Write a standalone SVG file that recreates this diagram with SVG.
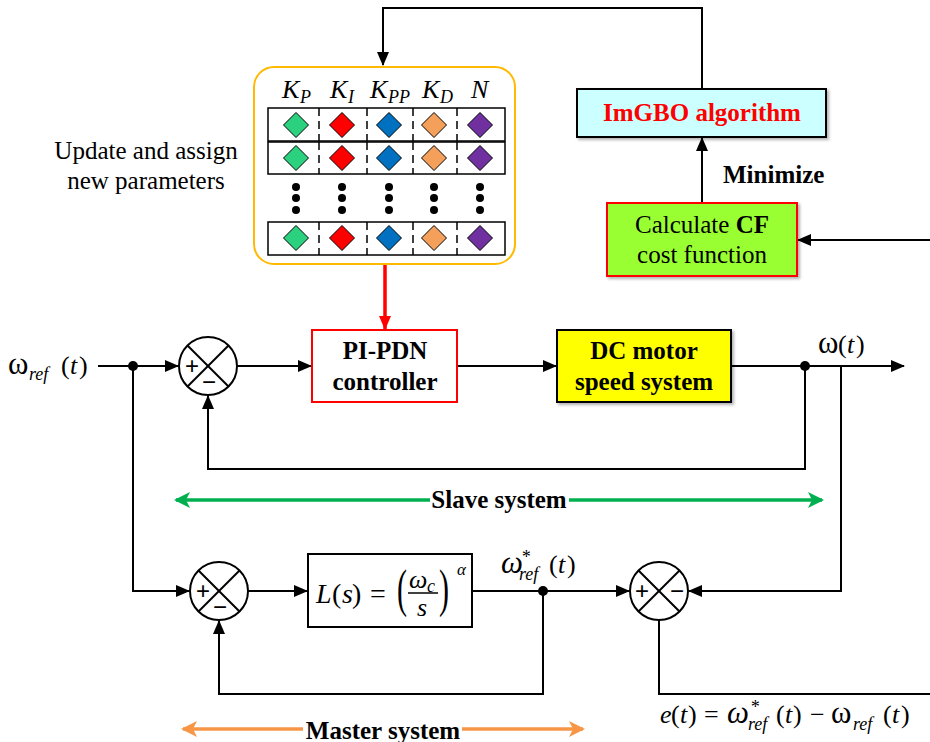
<svg xmlns="http://www.w3.org/2000/svg" width="930" height="742" viewBox="0 0 930 742">
<defs>
<marker id="ah" markerWidth="14" markerHeight="12" refX="13" refY="6" orient="auto" markerUnits="userSpaceOnUse"><path d="M0,0 L14,6 L0,12 Z" fill="#000"/></marker>
<marker id="ahr" markerWidth="14" markerHeight="12" refX="13" refY="6" orient="auto" markerUnits="userSpaceOnUse"><path d="M0,0 L14,6 L0,12 Z" fill="#FF0000"/></marker>
<marker id="ahg" markerWidth="16" markerHeight="16" refX="14" refY="8" orient="auto-start-reverse" markerUnits="userSpaceOnUse"><path d="M0,0 L16,8 L0,16 L4,8 Z" fill="#00B050"/></marker>
<marker id="aho" markerWidth="16" markerHeight="16" refX="14" refY="8" orient="auto-start-reverse" markerUnits="userSpaceOnUse"><path d="M0,0 L16,8 L0,16 L4,8 Z" fill="#F79646"/></marker>
<filter id="sh" x="-10%" y="-10%" width="130%" height="140%"><feDropShadow dx="2" dy="2" stdDeviation="1.5" flood-color="#000" flood-opacity="0.3"/></filter>
<g id="dm"><path d="M0,-12.5 L12.5,0 L0,12.5 L-12.5,0 Z" stroke="#000" stroke-width="1"/></g>
</defs>
<style>
.ln{fill:none;stroke:#000;stroke-width:2}
.box{stroke-width:2}
.t{font-family:"Liberation Serif",serif;font-size:25px;fill:#000}
.b{font-weight:bold}
.m{font-family:"Liberation Serif",serif;font-style:italic;font-size:26px;fill:#000}
.u{font-style:normal}
.w{font-size:31px}
.sub{font-size:18px}
.sj{fill:#fff;stroke:#000;stroke-width:2}
.pm{font-family:"Liberation Sans",sans-serif;font-size:24px;fill:#000;text-anchor:middle}
.row{fill:#fff;stroke:#000;stroke-width:1.5}
.dv{stroke:#000;stroke-width:1.5;stroke-dasharray:8,5}
.c1{fill:#2BD17E}.c2{fill:#FF0000}.c3{fill:#0070C0}.c4{fill:#F5A05A}.c5{fill:#7030A0}
</style>
<rect width="930" height="742" fill="#fff"/>

<!-- connectors -->
<g id="connectors">
<polyline class="ln" points="702,89 702,8 383,8 383,65" marker-end="url(#ah)"/>
<line class="ln" x1="702" y1="203" x2="702" y2="138" marker-end="url(#ah)"/>
<line class="ln" x1="930" y1="240" x2="798" y2="240" marker-end="url(#ah)"/>
<line x1="385" y1="265" x2="385" y2="329" stroke="#FF0000" stroke-width="3.5" marker-end="url(#ahr)"/>
<line class="ln" x1="98" y1="366" x2="178" y2="366" marker-end="url(#ah)"/>
<line class="ln" x1="237" y1="366" x2="311" y2="366" marker-end="url(#ah)"/>
<line class="ln" x1="457" y1="366" x2="556" y2="366" marker-end="url(#ah)"/>
<line class="ln" x1="731" y1="366" x2="904" y2="366" marker-end="url(#ah)"/>
<polyline class="ln" points="805,366 805,469 208,469 208,396" marker-end="url(#ah)"/>
<polyline class="ln" points="133,366 133,591 189,591" marker-end="url(#ah)"/>
<line class="ln" x1="248" y1="591" x2="307" y2="591" marker-end="url(#ah)"/>
<line class="ln" x1="472" y1="591" x2="629" y2="591" marker-end="url(#ah)"/>
<polyline class="ln" points="543,591 543,694 219,694 219,621" marker-end="url(#ah)"/>
<polyline class="ln" points="841,366 841,591 689,591" marker-end="url(#ah)"/>
<polyline class="ln" points="659,620 659,694 930,694"/>
<circle cx="133" cy="366" r="5" fill="#000"/>
<circle cx="805" cy="366" r="5" fill="#000"/>
<circle cx="543" cy="591" r="5" fill="#000"/>
<line x1="430" y1="500" x2="176" y2="500" stroke="#00B050" stroke-width="3.5" marker-end="url(#ahg)"/>
<line x1="569" y1="500" x2="822" y2="500" stroke="#00B050" stroke-width="3.5" marker-end="url(#ahg)"/>
<line x1="303" y1="729" x2="183" y2="729" stroke="#F79646" stroke-width="3.5" marker-end="url(#aho)"/>
<line x1="462" y1="729" x2="583" y2="729" stroke="#F79646" stroke-width="3.5" marker-end="url(#aho)"/>
</g>

<!-- parameter panel -->
<g id="params">
<rect x="254" y="67" width="261" height="197" rx="20" fill="#fff" stroke="#FFB900" stroke-width="2"/>
<text class="m" y="98"><tspan x="282">K</tspan><tspan class="sub" x="300" y="103">P</tspan></text>
<text class="m" y="98"><tspan x="330">K</tspan><tspan class="sub" x="348" y="103">I</tspan></text>
<text class="m" y="98"><tspan x="370">K</tspan><tspan class="sub" x="388" y="103">PP</tspan></text>
<text class="m" y="98"><tspan x="422">K</tspan><tspan class="sub" x="440" y="103">D</tspan></text>
<text class="m" x="471" y="98">N</text>
<rect class="row" x="268" y="108" width="237" height="33"/>
<rect class="row" x="268" y="142" width="237" height="32"/>
<rect class="row" x="268" y="222" width="237" height="33"/>
<g>
<line class="dv" x1="319" y1="108" x2="319" y2="141"/><line class="dv" x1="367" y1="108" x2="367" y2="141"/><line class="dv" x1="413" y1="108" x2="413" y2="141"/><line class="dv" x1="457" y1="108" x2="457" y2="141"/>
<line class="dv" x1="319" y1="142" x2="319" y2="174"/><line class="dv" x1="367" y1="142" x2="367" y2="174"/><line class="dv" x1="413" y1="142" x2="413" y2="174"/><line class="dv" x1="457" y1="142" x2="457" y2="174"/>
<line class="dv" x1="319" y1="222" x2="319" y2="255"/><line class="dv" x1="367" y1="222" x2="367" y2="255"/><line class="dv" x1="413" y1="222" x2="413" y2="255"/><line class="dv" x1="457" y1="222" x2="457" y2="255"/>
</g>
<use href="#dm" class="c1" x="296" y="125"/><use href="#dm" class="c2" x="342" y="125"/><use href="#dm" class="c3" x="389" y="125"/><use href="#dm" class="c4" x="434" y="125"/><use href="#dm" class="c5" x="480" y="125"/>
<use href="#dm" class="c1" x="296" y="158"/><use href="#dm" class="c2" x="342" y="158"/><use href="#dm" class="c3" x="389" y="158"/><use href="#dm" class="c4" x="434" y="158"/><use href="#dm" class="c5" x="480" y="158"/>
<use href="#dm" class="c1" x="296" y="238"/><use href="#dm" class="c2" x="342" y="238"/><use href="#dm" class="c3" x="389" y="238"/><use href="#dm" class="c4" x="434" y="238"/><use href="#dm" class="c5" x="480" y="238"/>
<g fill="#000">
<circle cx="296" cy="187" r="4"/><circle cx="296" cy="198" r="4"/><circle cx="296" cy="210" r="4"/>
<circle cx="342" cy="187" r="4"/><circle cx="342" cy="198" r="4"/><circle cx="342" cy="210" r="4"/>
<circle cx="389" cy="187" r="4"/><circle cx="389" cy="198" r="4"/><circle cx="389" cy="210" r="4"/>
<circle cx="434" cy="187" r="4"/><circle cx="434" cy="198" r="4"/><circle cx="434" cy="210" r="4"/>
<circle cx="480" cy="187" r="4"/><circle cx="480" cy="198" r="4"/><circle cx="480" cy="210" r="4"/>
</g>
</g>

<g id="update-label">
<text class="t" x="146" y="159" text-anchor="middle">Update and assign</text>
<text class="t" x="146" y="189" text-anchor="middle">new parameters</text>
</g>

<g id="imgbo">
<rect x="577" y="89" width="249" height="48" fill="#CCFFFF" stroke="#000" class="box" filter="url(#sh)"/>
<text class="t b" x="702" y="121" text-anchor="middle" style="fill:#FF0000">ImGBO algorithm</text>
</g>
<text class="t b" x="723" y="183">Minimize</text>

<g id="cf">
<rect x="607" y="203" width="190" height="73" fill="#99FF33" stroke="#FF0000" class="box" filter="url(#sh)"/>
<text class="t" x="702" y="233" text-anchor="middle">Calculate <tspan class="b">CF</tspan></text>
<text class="t" x="702" y="263" text-anchor="middle">cost function</text>
</g>

<g id="sum1">
<circle class="sj" cx="208" cy="366" r="29"/>
<line class="ln" x1="187.5" y1="345.5" x2="228.5" y2="386.5"/><line class="ln" x1="228.5" y1="345.5" x2="187.5" y2="386.5"/>
<text class="pm" x="192" y="374">+</text><text class="pm" x="209" y="390">−</text>
</g>

<g id="pipdn">
<rect x="312" y="330" width="145" height="72" fill="#fff" stroke="#FF0000" class="box"/>
<text class="t b" x="385" y="359" text-anchor="middle">PI-PDN</text>
<text class="t b" x="385" y="390" text-anchor="middle">controller</text>
</g>

<g id="dcmotor">
<rect x="557" y="330" width="174" height="72" fill="#FFFF00" stroke="#000" class="box" filter="url(#sh)"/>
<text class="t b" x="644" y="359" text-anchor="middle">DC motor</text>
<text class="t b" x="644" y="390" text-anchor="middle">speed system</text>
</g>

<g id="labels">
<text class="m" y="374"><tspan class="u w" x="8">ω</tspan><tspan class="sub" x="29" y="380">ref</tspan><tspan class="u" x="61" y="374">(</tspan><tspan x="70">t</tspan><tspan class="u" x="79">)</tspan></text>
<text class="m" y="353"><tspan class="u w" x="818">ω</tspan><tspan class="u" x="838">(</tspan><tspan x="847">t</tspan><tspan class="u" x="856">)</tspan></text>
<text class="m" y="573"><tspan class="w" x="501">ω</tspan><tspan class="sub" x="521" y="563">*</tspan><tspan class="sub" x="519" y="580">ref</tspan><tspan class="u" x="549" y="573">(</tspan><tspan x="558">t</tspan><tspan class="u" x="567">)</tspan></text>
<text class="m" y="723"><tspan x="660">e</tspan><tspan class="u" x="671">(</tspan><tspan x="680">t</tspan><tspan class="u" x="688">)</tspan><tspan class="u" x="704">=</tspan><tspan class="w" x="727">ω</tspan><tspan class="sub" x="750" y="713">*</tspan><tspan class="sub" x="748" y="730">ref</tspan><tspan class="u" x="776" y="723">(</tspan><tspan x="785">t</tspan><tspan class="u" x="793">)</tspan><tspan class="u" x="810">−</tspan><tspan class="u w" x="831">ω</tspan><tspan class="sub" x="853" y="730">ref</tspan><tspan class="u" x="883" y="723">(</tspan><tspan x="892">t</tspan><tspan class="u" x="901">)</tspan></text>
<text class="t b" x="499" y="508" text-anchor="middle">Slave system</text>
<text class="t b" x="383" y="739" text-anchor="middle">Master system</text>
</g>

<g id="sum2">
<circle class="sj" cx="219" cy="591" r="29"/>
<line class="ln" x1="198.5" y1="570.5" x2="239.5" y2="611.5"/><line class="ln" x1="239.5" y1="570.5" x2="198.5" y2="611.5"/>
<text class="pm" x="203" y="599">+</text><text class="pm" x="220" y="615">−</text>
</g>

<g id="lblock">
<rect x="308" y="554" width="164" height="73" fill="#fff" stroke="#000" class="box"/>
<text class="m" y="603" style="font-size:28px"><tspan x="316">L</tspan><tspan class="u" x="332">(</tspan><tspan x="342">s</tspan><tspan class="u" x="352">)</tspan><tspan class="u" x="370">=</tspan></text>
<text class="t" transform="translate(397,606) scale(0.75,1.3)" style="font-size:40px">(</text>
<text class="m" x="409" y="588">ω<tspan class="sub" x="427" y="592">c</tspan></text>
<line x1="408" y1="593" x2="438" y2="593" stroke="#000" stroke-width="1.5"/>
<text class="m" x="417" y="616">s</text>
<text class="t" transform="translate(439,606) scale(0.75,1.3)" style="font-size:40px">)</text>
<text class="m" x="457" y="575" style="font-size:17px">α</text>
</g>

<g id="sum3">
<circle class="sj" cx="659" cy="591" r="29"/>
<line class="ln" x1="638.5" y1="570.5" x2="679.5" y2="611.5"/><line class="ln" x1="679.5" y1="570.5" x2="638.5" y2="611.5"/>
<text class="pm" x="642" y="599">+</text><text class="pm" x="677" y="599">−</text>
</g>
</svg>
